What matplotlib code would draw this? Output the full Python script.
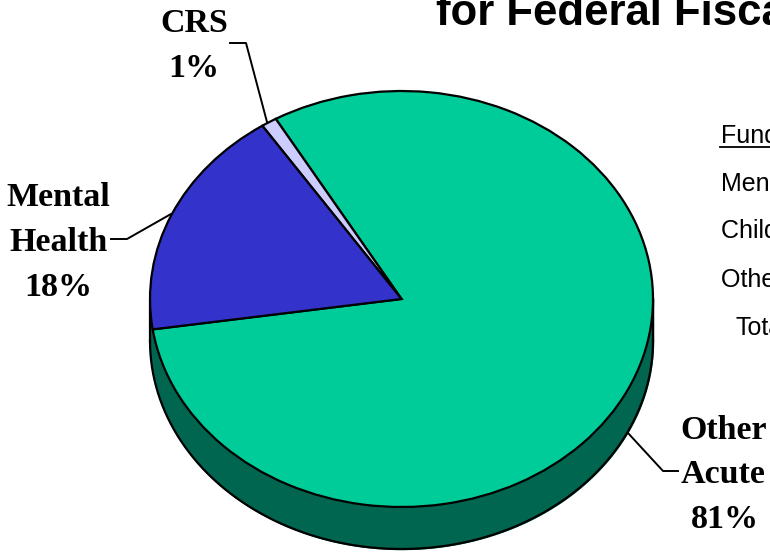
import matplotlib
matplotlib.use('Agg')
import matplotlib.pyplot as plt
import numpy as np

# shares of the pie
shares = [81, 1, 18]
colors = ['#00CC99', '#CCCCFF', '#3333CC']
side_color = '#006650'

labels = [('CRS', '1%'), ('Mental', 'Health', '18%'), ('Other', 'Acute', '81%')]
table_rows = ['Funding', 'Mental Health', "Children's Rehabilitative", 'Other Acute', 'Total']
title = 'for Federal Fiscal Year'

W, H = 770, 552
fig = plt.figure(figsize=(W/100, H/100), dpi=100, facecolor='white')

# pie axes: unit circle squashed into the ellipse
left, right, top, bottom = 150, 653, 91, 507
ax = fig.add_axes([left/W, 1-bottom/H, (right-left)/W, (bottom-top)/H])
ax.pie(shares, colors=colors, startangle=188.4, counterclock=True,
       wedgeprops={'edgecolor': 'black', 'linewidth': 1.6, 'zorder': 3})
ax.set_aspect('auto')
ax.set_xlim(-1, 1)
ax.set_ylim(-1, 1)
ax.axis('off')

# the side wall below the pie
depth = 42/208
t = np.linspace(np.pi, 2*np.pi, 300)
ax.fill_between(np.cos(t), np.sin(t), np.sin(t)-depth, color=side_color, zorder=1, clip_on=False)
ax.plot(np.cos(t), np.sin(t)-depth, color='black', lw=1.6, zorder=2, clip_on=False)
ax.plot([-1, -1], [0, -depth], color='black', lw=1.6, zorder=2, clip_on=False)
ax.plot([1, 1], [0, -depth], color='black', lw=1.6, zorder=2, clip_on=False)

# overlay in pixel coordinates for text
ov = fig.add_axes([0, 0, 1, 1], facecolor='none')
ov.set_xlim(0, W)
ov.set_ylim(H, 0)
ov.axis('off')

serif = dict(family='Liberation Serif', fontweight='bold', fontsize=24.5, ha='center', va='baseline', color='black')
ov.text(194.5, 32, labels[0][0], **serif)
ov.text(194, 77, labels[0][1], **serif)
ov.text(58, 206, labels[1][0], **serif)
ov.text(58.5, 251, labels[1][1], **serif)
ov.text(58, 296, labels[1][2], **serif)
ov.text(724, 439, labels[2][0], **serif)
ov.text(723.5, 483, labels[2][1], **serif)
ov.text(724.5, 528, labels[2][2], **serif)

# leader lines
ov.plot([230, 246, 267], [43, 43, 122], color='black', lw=1.4)
ov.plot([111, 127, 171], [239, 239, 214], color='black', lw=1.4)
ov.plot([628, 663, 678], [433, 471, 471], color='black', lw=1.4)

ov.text(436, 25, title, family='Liberation Sans', fontweight='bold', fontsize=31.5, ha='left', va='baseline', color='black')

sans = dict(family='Liberation Sans', fontsize=18, ha='left', va='baseline', color='black')
ov.text(721, 143, table_rows[0], **sans)
ov.plot([720, 770], [146.5, 146.5], color='black', lw=1.3)
ov.text(721, 191, table_rows[1], **sans)
ov.text(721, 238, table_rows[2], **sans)
ov.text(721, 287, table_rows[3], **sans)
ov.text(736, 335, table_rows[4], **sans)

fig.savefig('out.png', dpi=100)
